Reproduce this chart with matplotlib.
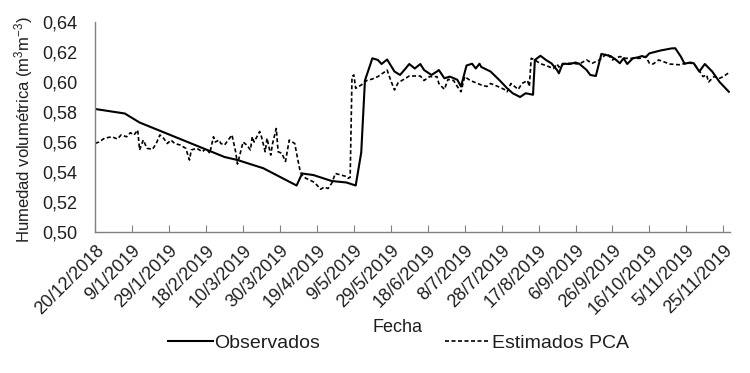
"""Humedad volumetrica observada vs estimada (PCA)."""

import matplotlib
matplotlib.use('Agg')
import matplotlib.pyplot as plt
import matplotlib.dates as mdates
from matplotlib.ticker import FuncFormatter, FixedLocator
import pandas as pd

plt.rcParams['font.family'] = ['Liberation Sans', 'DejaVu Sans']
plt.rcParams['mathtext.fontset'] = 'custom'
plt.rcParams['mathtext.rm'] = 'Liberation Sans'
plt.rcParams['mathtext.it'] = 'Liberation Sans:italic'

start = pd.Timestamp('2018-12-20')

# days since 20/12/2018 and values
obs_day = [0, 16, 24, 70, 77, 91, 109, 112, 118, 128, 136, 141, 144, 146, 149,
           150, 153, 155, 158, 162, 165, 168, 170, 173, 176, 178, 182, 185,
           186, 189, 192, 196, 198, 201, 204, 206, 208, 209, 214, 219, 223,
           226, 230, 233, 237, 238, 241, 244, 247, 250, 251, 253, 257, 260,
           262, 266, 268, 271, 274, 279, 282, 284, 286, 288, 291, 294, 296,
           298, 300, 306, 312, 314, 317, 319, 322, 324, 327, 330, 334, 338,
           343]
obs_val = [0.582, 0.579, 0.573, 0.550, 0.548, 0.5425, 0.531, 0.539, 0.538,
           0.534, 0.533, 0.531, 0.553, 0.601, 0.612, 0.6158, 0.6147, 0.612,
           0.615, 0.607, 0.6047, 0.609, 0.612, 0.609, 0.612, 0.608, 0.6047,
           0.607, 0.608, 0.6025, 0.6036, 0.6015, 0.597, 0.611, 0.6122, 0.609,
           0.6122, 0.610, 0.607, 0.601, 0.5958, 0.5925, 0.590, 0.5925, 0.5915,
           0.6147, 0.6175, 0.6147, 0.6124, 0.608, 0.6058, 0.6122, 0.612,
           0.613, 0.6122, 0.608, 0.6047, 0.604, 0.6187, 0.6173, 0.6147,
           0.6125, 0.6158, 0.612, 0.6158, 0.6165, 0.6173, 0.6165, 0.6191,
           0.621, 0.6224, 0.6225, 0.617, 0.6122, 0.613, 0.6125, 0.607, 0.612,
           0.607, 0.600, 0.5935]

est_day = [0, 2, 5, 9, 12, 14, 17, 19, 21, 23,
           24, 26, 28, 31, 33, 35, 37, 39, 41, 43,
           46, 49, 51, 52, 55, 58, 60, 62, 64, 65,
           67, 68, 70, 74, 76, 77, 78, 80, 82, 84,
           85, 86, 89, 90, 92, 93, 95, 96, 98, 99,
           101, 103, 105, 108, 109, 111, 112, 114, 116, 118,
           120, 122, 124, 126, 128, 130, 133, 136, 137, 138,
           139, 140, 141, 144, 147, 150, 153, 157, 158, 160,
           162, 164, 166, 170, 176, 178, 181, 185, 186, 189,
           191, 194, 196, 198, 200, 203, 205, 209, 212, 214,
           219, 222, 223, 225, 229, 231, 234, 235, 236, 238,
           241, 244, 248, 250, 251, 254, 257, 262, 266, 269,
           273, 277, 280, 284, 287, 291, 295, 298, 300, 302,
           305, 311, 316, 320, 324, 326, 328, 329, 331, 332,
           335, 338, 340, 343]
est_val = [0.5591, 0.560, 0.5625, 0.5635, 0.562, 0.5647, 0.5635, 0.5662, 0.5647, 0.568,
           0.5547, 0.5613, 0.5558, 0.5551, 0.559, 0.5647, 0.5625, 0.559, 0.5613, 0.559,
           0.558, 0.5558, 0.548, 0.5547, 0.5558, 0.5535, 0.5558, 0.5525, 0.5635, 0.560,
           0.5613, 0.559, 0.558, 0.5647, 0.5535, 0.5453, 0.550, 0.560, 0.558, 0.5547,
           0.5635, 0.560, 0.567, 0.5635, 0.5535, 0.5625, 0.5513, 0.559, 0.569, 0.5535,
           0.5525, 0.547, 0.5613, 0.559, 0.5525, 0.540, 0.538, 0.5358, 0.5347, 0.5335,
           0.5313, 0.5285, 0.530, 0.529, 0.5325, 0.539, 0.538, 0.537, 0.5358, 0.5365,
           0.6036, 0.6047, 0.5958, 0.598, 0.601, 0.602, 0.6036, 0.607, 0.608, 0.601,
           0.5947, 0.5996, 0.601, 0.604, 0.604, 0.601, 0.6036, 0.6036, 0.599, 0.5951,
           0.6018, 0.601, 0.597, 0.5935, 0.6036, 0.601, 0.600, 0.598, 0.597, 0.599,
           0.5965, 0.5947, 0.5935, 0.599, 0.5951, 0.599, 0.601, 0.597, 0.6158, 0.6147,
           0.6122, 0.611, 0.609, 0.612, 0.610, 0.6122, 0.6125, 0.612, 0.6147, 0.6125,
           0.6147, 0.619, 0.6147, 0.617, 0.6158, 0.6158, 0.6158, 0.617, 0.6125, 0.612,
           0.6147, 0.612, 0.6115, 0.6125, 0.6125, 0.609, 0.6058, 0.6036, 0.6047, 0.600,
           0.6036, 0.6025, 0.6036, 0.6062]

tick_days = list(range(0, 341, 20))

TXT = '#1e1e1e'


def to_dates(days):
    return [start + pd.Timedelta(days=d) for d in days]


def date_label(x, pos):
    d = mdates.num2date(x)
    return '%d/%d/%d' % (d.day, d.month, d.year)


fig = plt.figure(figsize=(7.5, 3.73), dpi=100)
ax = fig.add_axes([0.127, 0.378, 0.846, 0.563])

ax.plot(to_dates(obs_day), obs_val, '-', color='black', lw=1.5,
        label='Observados')
ax.plot(to_dates(est_day), est_val, '--', color='black', lw=1.2,
        dashes=(2.4, 1.5), label='Estimados PCA')

ax.set_ylim(0.50, 0.64)
ax.set_yticks([0.50, 0.52, 0.54, 0.56, 0.58, 0.60, 0.62, 0.64])
ax.yaxis.set_major_formatter(FuncFormatter(lambda v, p: ('%.2f' % v).replace('.', ',')))
ax.set_xlim(mdates.date2num(start), mdates.date2num(start + pd.Timedelta(days=343.5)))
ax.xaxis.set_major_locator(FixedLocator(mdates.date2num(to_dates(tick_days))))
ax.xaxis.set_major_formatter(FuncFormatter(date_label))

for s in ['top', 'right']:
    ax.spines[s].set_visible(False)
for s in ['left', 'bottom']:
    ax.spines[s].set_color('#808080')
    ax.spines[s].set_linewidth(1.0)

ax.tick_params(axis='y', length=0, labelsize=13, pad=13, labelcolor=TXT)
ax.tick_params(axis='x', direction='in', length=5, color='#808080',
               labelsize=13, labelcolor=TXT, pad=7)
plt.setp(ax.get_xticklabels(), rotation=45, ha='right', rotation_mode='anchor')

fig.text(24 / 750, 1 - 129 / 373, 'Humedad volumétrica (m$^{3}$m$^{-3}$)',
         rotation=90, ha='center', va='center', fontsize=12, color=TXT)
fig.text(398 / 750, 1 - 328 / 373, 'Fecha', ha='center', va='center',
         fontsize=13, color=TXT)

fig.legend(loc='center', bbox_to_anchor=(0.531, 0.080), ncol=2, frameon=False,
           fontsize=14, handlelength=2.3, handletextpad=0.1,
           columnspacing=6.4, labelcolor=TXT, borderpad=0)

fig.savefig('out.png', dpi=100)
